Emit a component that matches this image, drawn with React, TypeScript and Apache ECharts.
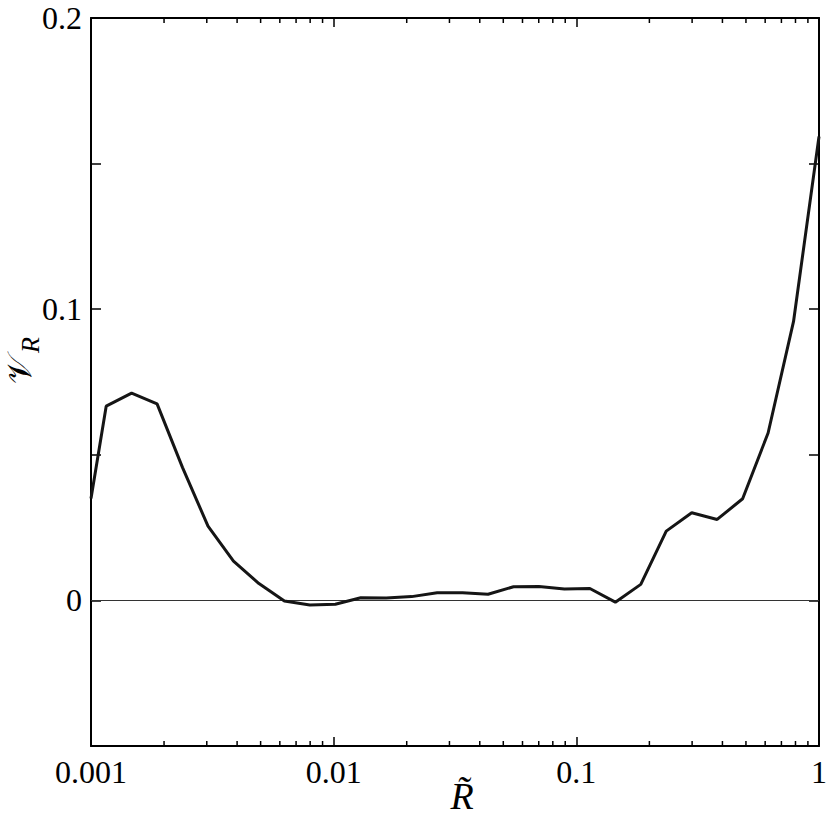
import React, { useEffect, useRef } from "react";
import * as echarts from "echarts";

// Radius values (R~)
const rValues = [
  0.001, 0.001155, 0.00147, 0.001872, 0.002384, 0.003035, 0.003865, 0.004921,
  0.006265, 0.007977, 0.01016, 0.01293, 0.01646, 0.02096, 0.02669, 0.03398,
  0.04327, 0.05509, 0.07014, 0.08931, 0.1137, 0.1448, 0.1843, 0.2347, 0.2989,
  0.3805, 0.4845, 0.6169, 0.7854, 1,
];
// V_R values
const vValues = [
  0.035, 0.0667, 0.0712, 0.0675, 0.0456, 0.0255, 0.0135, 0.0058, -0.0002,
  -0.0016, -0.0013, 0.0009, 0.0008, 0.0013, 0.0026, 0.0026, 0.0021, 0.0047,
  0.0048, 0.0039, 0.0041, -0.0006, 0.0055, 0.0238, 0.0301, 0.0278, 0.0349,
  0.0575, 0.0958, 0.1593,
];
const xTickLabels = ["0.001", "0.01", "0.1", "1"];
const yTickLabels: Record<string, string> = { "0": "0", "10": "0.1", "20": "0.2" };
const minorTickR = [
  0.002, 0.003, 0.004, 0.005, 0.006, 0.007, 0.008, 0.009,
  0.02, 0.03, 0.04, 0.05, 0.06, 0.07, 0.08, 0.09,
  0.2, 0.3, 0.4, 0.5, 0.6, 0.7, 0.8, 0.9,
];

const FONT = "'Liberation Serif', 'DejaVu Serif', serif";

export default function App() {
  const ref = useRef<HTMLDivElement>(null);
  useEffect(() => {
    if (!ref.current) return;
    const chart = echarts.init(ref.current, null, { renderer: "svg" });
    const axisLine = { show: true, onZero: false, lineStyle: { color: "#000", width: 2 } };
    const xLabelFmt = (v: number) => xTickLabels[Math.round(Math.log10(v)) + 3] ?? "";
    const yLabelFmt = (v: number) => yTickLabels[String(Math.round(v * 100))] ?? "";
    const xBase = {
      type: "log" as const,
      logBase: 10,
      min: 0.001,
      max: 1,
      axisLine,
      axisTick: { show: true, inside: true, length: 9, lineStyle: { color: "#000", width: 1.5 } },
      splitLine: { show: false },
      minorTick: { show: false },
    };
    const yBase = {
      type: "value" as const,
      min: -0.05,
      max: 0.2,
      interval: 0.05,
      axisLine,
      axisTick: { show: true, inside: true, length: 10, lineStyle: { color: "#000", width: 1.5 } },
      splitLine: { show: false },
    };
    chart.setOption({
      animation: false,
      grid: { left: 91, right: 9, top: 18, bottom: 73, containLabel: false },
      xAxis: [
        {
          ...xBase,
          position: "bottom",
          axisLabel: { show: true, formatter: xLabelFmt, fontFamily: FONT, fontSize: 32, color: "#000", margin: 10 },
        },
        { ...xBase, position: "top", axisLabel: { show: false } },
      ],
      yAxis: [
        {
          ...yBase,
          position: "left",
          axisLabel: { show: true, formatter: yLabelFmt, fontFamily: FONT, fontSize: 32, color: "#000", margin: 9 },
        },
        { ...yBase, position: "right", axisLabel: { show: false } },
      ],
      series: [
        {
          type: "line",
          xAxisIndex: 0,
          yAxisIndex: 0,
          data: rValues.map((r, i) => [r, vValues[i]]),
          showSymbol: false,
          symbol: "none",
          lineStyle: { color: "#151515", width: 3 },
          z: 5,
          markLine: {
            silent: true,
            symbol: ["none", "none"],
            label: { show: false },
            lineStyle: { color: "#333", width: 1, type: "solid" },
            data: [{ yAxis: 0 }],
          },
        },
        {
          type: "custom",
          xAxisIndex: 0,
          yAxisIndex: 0,
          silent: true,
          data: minorTickR.map((r) => [r]),
          renderItem: (params: any, api: any) => {
            const r = api.value(0);
            const b = api.coord([r, -0.05]);
            const t = api.coord([r, 0.2]);
            const st = { stroke: "#000", lineWidth: 1.5 };
            return {
              type: "group",
              children: [
                { type: "line", shape: { x1: b[0], y1: b[1], x2: b[0], y2: b[1] - 5 }, style: st },
                { type: "line", shape: { x1: t[0], y1: t[1], x2: t[0], y2: t[1] + 5 }, style: st },
              ],
            };
          },
          z: 6,
        },
      ],
      graphic: [
        {
          type: "text",
          x: 462,
          y: 796,
          style: {
            text: "R\u0303",
            fontFamily: FONT,
            fontStyle: "italic",
            fontSize: 38,
            fill: "#000",
            textAlign: "center",
            textVerticalAlign: "middle",
          },
        },
        {
          type: "text",
          x: 19,
          y: 370,
          rotation: Math.PI / 2,
          style: {
            text: "\u{1D4B1}",
            fontFamily: FONT,
            fontSize: 34,
            fill: "#000",
            textAlign: "center",
            textVerticalAlign: "middle",
          },
        },
        {
          type: "text",
          x: 30,
          y: 345,
          rotation: Math.PI / 2,
          style: {
            text: "R",
            fontFamily: FONT,
            fontStyle: "italic",
            fontSize: 26,
            fill: "#000",
            textAlign: "center",
            textVerticalAlign: "middle",
          },
        },
      ],
    });
    return () => chart.dispose();
  }, []);
  return (
    <div
      ref={ref}
      style={{ position: "fixed", left: 0, top: 0, width: 830, height: 819, background: "#fff" }}
    />
  );
}
